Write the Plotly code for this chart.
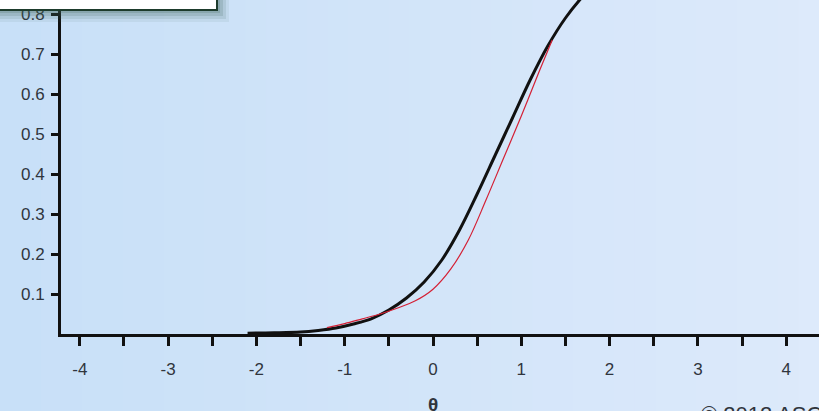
import plotly.graph_objects as go

# Data
theta_black = [-2.1, -1.8, -1.5, -1.3, -1.1, -0.9, -0.7, -0.5, -0.3, -0.1, 0.1, 0.3,
               0.5, 0.7, 0.9, 1.1, 1.3, 1.5, 1.7, 1.9, 2.1]
prob_black = [0.002, 0.003, 0.005, 0.009, 0.015, 0.025, 0.038, 0.06, 0.09, 0.13, 0.185,
              0.26, 0.35, 0.445, 0.54, 0.635, 0.72, 0.79, 0.845, 0.89, 0.92]

theta_red = [-1.2, -1.0, -0.8, -0.6, -0.4, -0.2, 0.0, 0.2, 0.4, 0.6, 0.8, 1.0, 1.2, 1.35]
prob_red = [0.016, 0.026, 0.038, 0.05, 0.065, 0.083, 0.112, 0.162, 0.235, 0.335, 0.44,
            0.545, 0.655, 0.735]

x_ticks = [-4, -3, -2, -1, 0, 1, 2, 3, 4]
x_labels = ["-4", "-3", "-2", "-1", "0", "1", "2", "3", "4"]
y_ticks = [0.1, 0.2, 0.3, 0.4, 0.5, 0.6, 0.7, 0.8]
y_labels = ["0.1", "0.2", "0.3", "0.4", "0.5", "0.6", "0.7", "0.8"]

fig = go.Figure()

fig.add_trace(go.Scatter(
    x=theta_black, y=prob_black, mode="lines", line_shape="spline",
    line=dict(color="#111111", width=3), showlegend=False,
))
fig.add_trace(go.Scatter(
    x=theta_red, y=prob_red, mode="lines", line_shape="spline",
    line=dict(color="#d42035", width=1.2), showlegend=False,
))


def px_x(p):
    return (p - 61) / 758


def px_y(p):
    return (334 - p) / 334


# background gradient (left darker blue -> right lighter)
shapes = []
n = 40
x0p, x1p = px_x(0), 1.0
for i in range(n):
    t = i / (n - 1)
    r = int(200 + (221 - 200) * t)
    g = int(224 + (234 - 224) * t)
    b = int(248 + (251 - 248) * t)
    shapes.append(dict(
        type="rect", xref="paper", yref="paper", layer="below",
        x0=x0p + (x1p - x0p) * i / n, x1=x0p + (x1p - x0p) * (i + 1) / n + 0.002,
        y0=-0.25, y1=1.05, line_width=0, fillcolor=f"rgb({r},{g},{b})",
    ))

# legend box (cropped at top) with a soft shadow
for k, a in [(12, 0.08), (9, 0.12), (6, 0.16), (3, 0.2)]:
    shapes.append(dict(type="rect", xref="paper", yref="paper", layer="above",
                       x0=px_x(0), x1=px_x(217 + k), y0=px_y(10 + k), y1=1.1,
                       line_width=0, fillcolor=f"rgba(60,100,90,{a})"))
shapes.append(dict(type="rect", xref="paper", yref="paper", layer="above",
                   x0=px_x(-5), x1=px_x(217), y0=px_y(10), y1=1.1,
                   line=dict(color="#1d3b2c", width=2), fillcolor="white"))

fig.update_layout(
    width=819, height=411,
    margin=dict(l=61, r=0, t=0, b=77),
    paper_bgcolor="#d3e6f9",
    plot_bgcolor="rgba(0,0,0,0)",
    shapes=shapes,
    font=dict(family="Liberation Sans, Arial, sans-serif", size=17, color="#30353d"),
    xaxis=dict(
        range=[(61 - 433) / 88.3, (819 - 433) / 88.3],
        showgrid=False, zeroline=False,
        showline=True, linecolor="#111111", linewidth=3,
        tickvals=x_ticks, ticktext=x_labels,
        ticks="outside", ticklen=9, tickwidth=3, tickcolor="#111111",
        ticklabelstandoff=9,
        minor=dict(dtick=0.5, tick0=0, ticks="outside", ticklen=9, tickwidth=3,
                   tickcolor="#111111", showgrid=False),
    ),
    yaxis=dict(
        range=[0, 0.835],
        showgrid=False, zeroline=False,
        showline=True, linecolor="#111111", linewidth=3,
        tickvals=y_ticks, ticktext=y_labels,
        ticks="outside", ticklen=7, tickwidth=3, tickcolor="#111111",
        ticklabelstandoff=3,
    ),
    annotations=[
        dict(text="<b>θ</b>", xref="x", yref="paper", x=0, y=px_y(392),
             yanchor="top", showarrow=False, font=dict(size=19, color="#30353d")),
        dict(text="© 2012 ASCO", xref="paper", yref="paper", x=px_x(699), y=px_y(400),
             xanchor="left", yanchor="top", showarrow=False,
             font=dict(size=22, color="#30353d")),
    ],
)

fig.write_html("out.html", config={"displayModeBar": False},
               post_script="document.body.style.margin='0';")
